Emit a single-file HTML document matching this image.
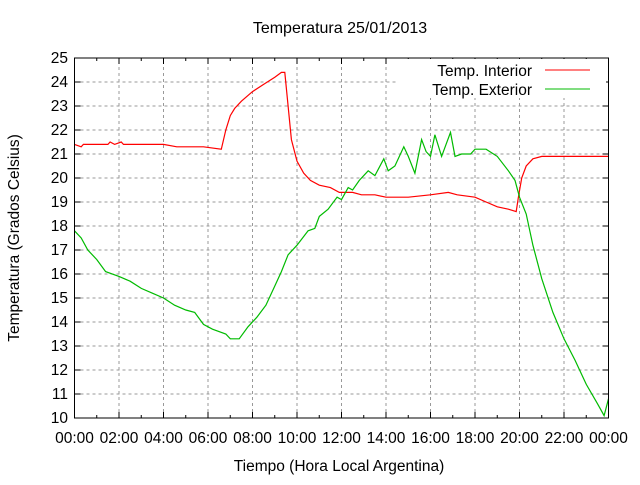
<!DOCTYPE html>
<html><head><meta charset="utf-8"><style>
body{margin:0;background:#fff}
svg text{font-family:"Liberation Sans",sans-serif;font-size:15.5px;fill:#000}
</style></head><body>
<svg id="chart" width="640" height="480" xmlns="http://www.w3.org/2000/svg">
<rect width="640" height="480" fill="#fff"/>
<g id="grid"></g>
<g id="axes"></g>
<rect x="398" y="59" width="208" height="39" fill="#fff"/>
<g id="series"></g>
<rect x="74.5" y="58" width="534" height="360" fill="none" stroke="#000" stroke-width="1"/>
<text x="340" y="33" text-anchor="middle" style="font-size:16px">Temperatura 25/01/2013</text>
<text x="339" y="471" text-anchor="middle">Tiempo (Hora Local Argentina)</text>
<text transform="translate(19,238) rotate(-90)" text-anchor="middle">Temperatura (Grados Celsius)</text>
<g>
<text x="532" y="76" text-anchor="end">Temp. Interior</text>
<line x1="545" y1="70" x2="590" y2="70" stroke="#f00" stroke-width="1"/>
<text x="532" y="95" text-anchor="end">Temp. Exterior</text>
<line x1="545" y1="89" x2="590" y2="89" stroke="#0b0" stroke-width="1"/>
</g>
</svg>
<script>
const xTickLabels=["00:00","02:00","04:00","06:00","08:00","10:00","12:00","14:00","16:00","18:00","20:00","22:00","00:00"];
const yTicks=[10,11,12,13,14,15,16,17,18,19,20,21,22,23,24,25];
const interiorTimes=[0,0.3,0.4,0.6,1.5,1.6,1.8,2.1,2.2,4.0,4.6,4.7,5.8,6.6,6.8,7.0,7.2,7.5,8.0,8.5,9.0,9.3,9.45,9.6,9.75,10.0,10.3,10.6,11.0,11.5,11.9,12.5,12.9,13.5,14.0,15.0,16.0,16.8,17.2,18.0,18.5,19.0,19.5,19.85,19.95,20.1,20.3,20.6,21.0,24.0];
const interiorValues=[21.4,21.3,21.4,21.4,21.4,21.5,21.4,21.5,21.4,21.4,21.3,21.3,21.3,21.2,22.0,22.6,22.9,23.2,23.6,23.9,24.2,24.4,24.4,23.0,21.6,20.7,20.2,19.9,19.7,19.6,19.4,19.4,19.3,19.3,19.2,19.2,19.3,19.4,19.3,19.2,19.0,18.8,18.7,18.6,19.2,20.0,20.5,20.8,20.9,20.9];
const exteriorTimes=[0,0.3,0.6,1.0,1.4,2.0,2.5,3.0,3.5,4.0,4.5,5.0,5.4,5.8,6.2,6.8,7.0,7.4,7.8,8.2,8.6,9.0,9.3,9.6,10.0,10.5,10.8,11.0,11.4,11.8,12.0,12.3,12.5,12.8,13.2,13.5,13.9,14.1,14.4,14.8,15.0,15.3,15.6,15.8,16.0,16.2,16.5,16.9,17.1,17.4,17.8,18.0,18.5,19.0,19.5,19.8,20.0,20.3,20.6,21.0,21.5,22.0,22.5,23.0,23.5,23.8,24.0];
const exteriorValues=[17.8,17.5,17.0,16.6,16.1,15.9,15.7,15.4,15.2,15.0,14.7,14.5,14.4,13.9,13.7,13.5,13.3,13.3,13.8,14.2,14.7,15.5,16.1,16.8,17.2,17.8,17.9,18.4,18.7,19.2,19.1,19.6,19.5,19.9,20.3,20.1,20.8,20.3,20.5,21.3,20.9,20.2,21.6,21.1,20.9,21.8,20.9,21.9,20.9,21.0,21.0,21.2,21.2,20.9,20.3,19.9,19.2,18.5,17.2,15.8,14.4,13.3,12.4,11.4,10.6,10.1,10.8];
const X0=74.5,X1=608.5,Y0=418,Y1=58;
const xs=h=>X0+(X1-X0)*h/24;
const ys=v=>Y0-(Y0-Y1)*(v-10)/15;
const NS="http://www.w3.org/2000/svg";
const grid=document.getElementById('grid'),axes=document.getElementById('axes'),series=document.getElementById('series');
function mk(tag,attrs,parent){const e=document.createElementNS(NS,tag);for(const k in attrs)e.setAttribute(k,attrs[k]);parent.appendChild(e);return e;}
xTickLabels.forEach((l,i)=>{
  const x=xs(i*2);
  if(i>0&&i<xTickLabels.length-1){
    const g=mk('line',{x1:x,y1:Y0,x2:x,y2:Y1,stroke:'#999','stroke-dasharray':'3,3'},grid);
    
    
  }
  const t=mk('text',{x:x,y:443,'text-anchor':'middle'},axes);
  t.textContent=l;
  
  
});
for(let h=0;h<=24;h++){
  const x=xs(h),len=h%2?3:6;
  const a=mk('line',{x1:x,y1:Y0,x2:x,y2:Y0-len,stroke:'#000'},axes);
  
  
  const b=mk('line',{x1:x,y1:Y1,x2:x,y2:Y1+len,stroke:'#000'},axes);
  
  
}
yTicks.forEach(v=>{
  const y=ys(v);
  if(v>10&&v<25){
    const g=mk('line',{x1:X0,y1:y,x2:X1,y2:y,stroke:'#999','stroke-dasharray':'3,3'},grid);
    
    
  }
  const t=mk('text',{x:68,y:y+5,'text-anchor':'end'},axes);
  t.textContent=v;
  
  
  const a=mk('line',{x1:X0,y1:y,x2:X0+6,y2:y,stroke:'#000'},axes);
  
  
  const b=mk('line',{x1:X1,y1:y,x2:X1-6,y2:y,stroke:'#000'},axes);
  
  
});
function linePath(ts,vs){
  let d='';
  for(let i=0;i<ts.length;i++){d+=(i?' L':'M')+xs(ts[i]).toFixed(1)+','+ys(vs[i]).toFixed(1);}
  return d;
}
const pi=mk('path',{d:linePath(interiorTimes,interiorValues),fill:'none',stroke:'#f00','stroke-width':1.2},series);


const pe=mk('path',{d:linePath(exteriorTimes,exteriorValues),fill:'none',stroke:'#0b0','stroke-width':1.2},series);


</script>
</body></html>
